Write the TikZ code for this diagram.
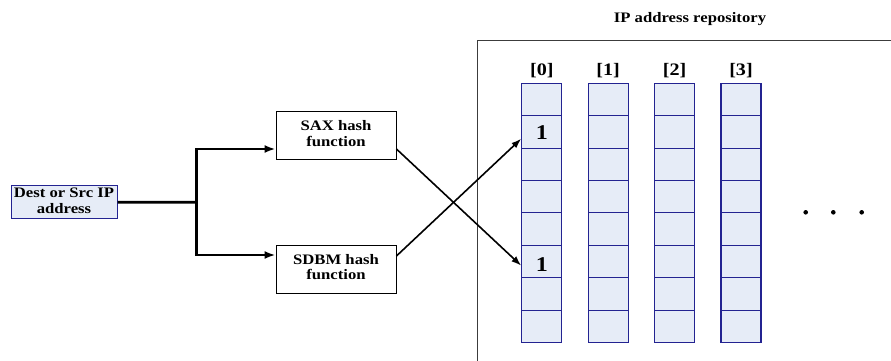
\documentclass[tikz,border=0pt]{standalone}
\usepackage{fontspec}
\setmainfont{Liberation Serif}
\usepackage{graphicx}
\usetikzlibrary{arrows.meta,calc}

\definecolor{cellfill}{RGB}{230,236,247}
\definecolor{cellline}{RGB}{35,35,145}
\definecolor{repoline}{RGB}{60,60,60}

% widened bold text, one or more centred lines
\newcommand{\widetxt}[1]{\scalebox{1.15}[1]{\begin{tabular}{@{}c@{}}#1\end{tabular}}}

\begin{document}
\begin{tikzpicture}[x=1pt,y=-1pt,
  txt/.style={font=\fontsize{14.5}{15.6}\selectfont\bfseries, inner sep=0pt},
  fnbox/.style={txt, draw=black, line width=0.9pt, minimum width=120pt, minimum height=48pt},
  inbox/.style={txt, draw=cellline, fill=cellfill, line width=1pt, minimum width=106pt, minimum height=33pt},
  cell/.style={draw=cellline, fill=cellfill, line width=1.1pt, minimum width=40pt, minimum height=32.4pt, inner sep=0pt},
  idx/.style={font=\fontsize{17.5}{18}\selectfont\bfseries, inner sep=0pt},
  bit/.style={font=\fontsize{21}{22}\selectfont\bfseries, inner sep=0pt, anchor=base},
  feed/.style={line width=2.6pt, -{Latex[length=11pt,width=8pt]}},
  hashto/.style={line width=1.6pt, -{Latex[length=10pt,width=7pt]}},
  dot/.style={circle, fill=black, inner sep=0pt, minimum size=4.6pt},
]
\useasboundingbox (0,0) rectangle (891,361);

% repository frame (runs past the right and bottom edges)
\node[txt, anchor=base] (repotitle) at (690,22.7) {\widetxt{IP address repository}};
\coordinate (repoBL) at (477.7,365);
\coordinate (repoTL) at (477.7,40.7);
\coordinate (repoTR) at (895,40.7);
\draw[repoline, line width=1pt] (repoBL) -- (repoTL) -- (repoTR);

% four columns of eight cells
\foreach \c in {0,1,2,3}{
  \pgfmathsetmacro{\cx}{541.8+66.4*\c}
  \node[idx] (lab\c) at (\cx,70.8) {\scalebox{1.15}[1]{[\c]}};
  \foreach \r in {0,...,7}{
    \pgfmathsetmacro{\cy}{99.5+32.4*\r}
    \node[cell] (c\c r\r) at (\cx,\cy) {};
  }
}
\node[bit] (one1) at ([yshift=-7.5pt]c0r1.center) {\scalebox{1.15}[1]{1}};
\node[bit] (one5) at ([yshift=-9.5pt]c0r5.center) {\scalebox{1.15}[1]{1}};

% more columns follow
\node[dot] (dotA) at (805.7,212.3) {};
\node[dot] (dotB) at (833.3,212.3) {};
\node[dot] (dotC) at (861.7,212.3) {};

% input and hash functions
\node[inbox] (src) at (64,202.2) {\widetxt{Dest or Src IP\\address}};
\node[fnbox] (sax) at (336,135.5) {\widetxt{SAX hash\\function}};
\node[fnbox] (sdbm) at (336,269) {\widetxt{SDBM hash\\function}};

\coordinate (fork) at (196.7,202.3);
\coordinate (saxin) at ([yshift=-13.5pt]sax.west);
\coordinate (sdbmin) at ([yshift=14pt]sdbm.west);
\coordinate (saxout) at ([yshift=-13.5pt]sax.east);
\coordinate (sdbmout) at ([yshift=13pt]sdbm.east);

\draw[line width=2.6pt] (src.east) -- (fork);
\draw[feed] ([yshift=-1.3pt]fork) |- (saxin);
\draw[feed] ([yshift=1.3pt]fork) |- (sdbmin);

% hash results set bits in column [0]
\draw[hashto] (saxout) -- ([yshift=-4.2pt]c0r5.west);
\draw[hashto] (sdbmout) -- ([yshift=-6.8pt]c0r1.west);
\end{tikzpicture}
\end{document}
